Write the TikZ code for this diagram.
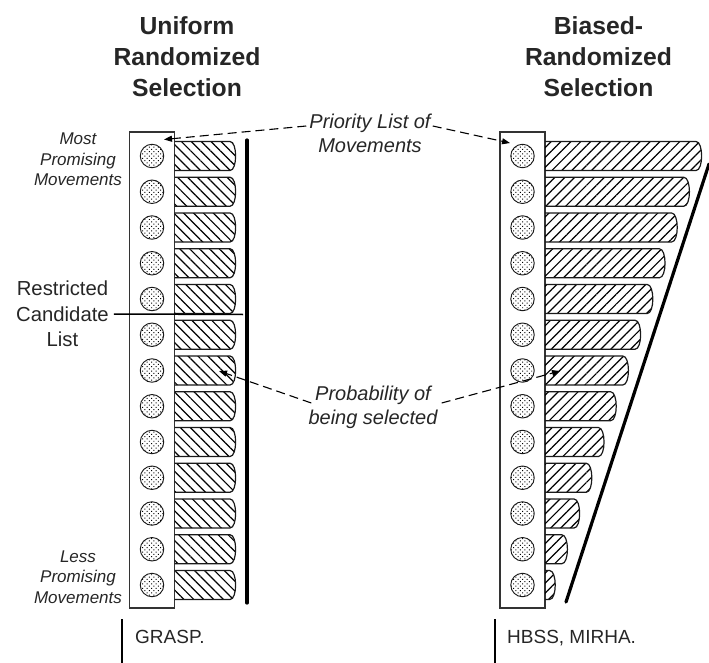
\documentclass[tikz,border=0pt]{standalone}
\usepackage{fontspec}
\setmainfont{Liberation Sans}
\usetikzlibrary{arrows.meta,patterns.meta}
\begin{document}
\begin{tikzpicture}[x=1pt,y=-1pt,
  every node/.style={inner sep=0pt, text=black!85},
  title/.style={font=\fontsize{24.7}{31}\selectfont\bfseries, align=center},
  rank/.style={font=\fontsize{17}{20.5}\selectfont\itshape, align=center},
  callout/.style={font=\fontsize{20}{23.5}\selectfont\itshape, align=center},
  plain/.style={font=\fontsize{20.3}{25.5}\selectfont, align=center},
  method/.style={font=\fontsize{19}{22}\selectfont, anchor=base west},
  listbox/.style={rectangle, draw=black!80, line width=1.3pt, fill=white,
    minimum width=45pt, minimum height=476pt},
  movement/.style={circle, draw=black!90, line width=0.9pt, minimum size=23.5pt,
    pattern={Dots[distance=3.2pt, radius=0.7pt, angle=45]}},
  bar/.style={draw=black!90, line width=1.2pt},
  uniformbar/.style={bar, pattern={Lines[angle=-45, distance=7pt, line width=1.2pt]}},
  biasedbar/.style={bar, pattern={Lines[angle=45, distance=7pt, line width=1.2pt]}},
  limit/.style={line width=3.2pt, line cap=round},
  pointer/.style={dash pattern=on 9pt off 5pt, line width=1.1pt,
    -{Triangle[length=8pt,width=6pt]}},
  marker/.style={line width=1.8pt},
]
\useasboundingbox (0,0) rectangle (709,663);

% column headings
\node[title] (tU) at (187,57) {Uniform\\Randomized\\Selection};
\node[title] (tB) at (598.5,57) {Biased-\\Randomized\\Selection};

% priority lists of movements
\node[listbox] (listL) at (152,370) {};
\node[listbox] (listR) at (522.5,370) {};

\foreach \i in {0,...,12}{
  \pgfmathsetmacro\yt{141.5+35.75*\i}
  \pgfmathsetmacro\yb{\yt+29}
  \pgfmathsetmacro\ym{\yt+14.5}
  \pgfmathsetmacro\xr{702-12.2*\i}
  % uniform probabilities
  \draw[uniformbar] (174.5,\yt) -- (230,\yt)
    .. controls (237.5,\yt) and (237.5,\yb) .. (230,\yb) -- (174.5,\yb);
  % biased probabilities
  \draw[biasedbar] (545,\yt) -- (\xr-6,\yt)
    .. controls (\xr+1.5,\yt) and (\xr+1.5,\yb) .. (\xr-6,\yb) -- (545,\yb);
  \node[movement] (cL\i) at (152,\ym) {};
  \node[movement] (cR\i) at (522.5,\ym) {};
}

% probability envelopes
\draw[limit] (247,140) -- (247,603);
\draw[limit] (709,164) -- (566,602);

% side labels
\node[rank] (most) at (78,159.5) {Most\\Promising\\Movements};
\node[rank] (less) at (78,577) {Less\\Promising\\Movements};
\node[plain] (rcl) at (62.5,314) {Restricted\\Candidate\\List};
\coordinate (rclEnd) at (243,314.5);
\draw[line width=1.5pt] ([xshift=5pt]rcl.east) -- (rclEnd);

% callouts
\node[callout] (prio) at (370,133.5) {Priority List of\\Movements};
\node[callout] (prob) at (373,407.5) {Probability of\\being selected};
\coordinate (prioTipL) at (164,139.5);
\coordinate (prioTipR) at (510,143);
\coordinate (probTipL) at (219,371);
\coordinate (probTipR) at (560,371);
\draw[pointer] ([shift={(-3,-7.5)}]prio.west) -- (prioTipL);
\draw[pointer] ([shift={(2,-7.5)}]prio.east) -- (prioTipR);
\draw[pointer] ([shift={(3,-4.5)}]prob.west) -- (probTipL);
\draw[pointer] ([shift={(4,-4.5)}]prob.east) -- (probTipR);

% methods
\draw[marker] (122,619) -- (122,663);
\node[method] (grasp) at (135,643) {GRASP.};
\draw[marker] (495,619) -- (495,663);
\node[method] (hbss) at (507,643) {HBSS, MIRHA.};
\end{tikzpicture}
\end{document}
